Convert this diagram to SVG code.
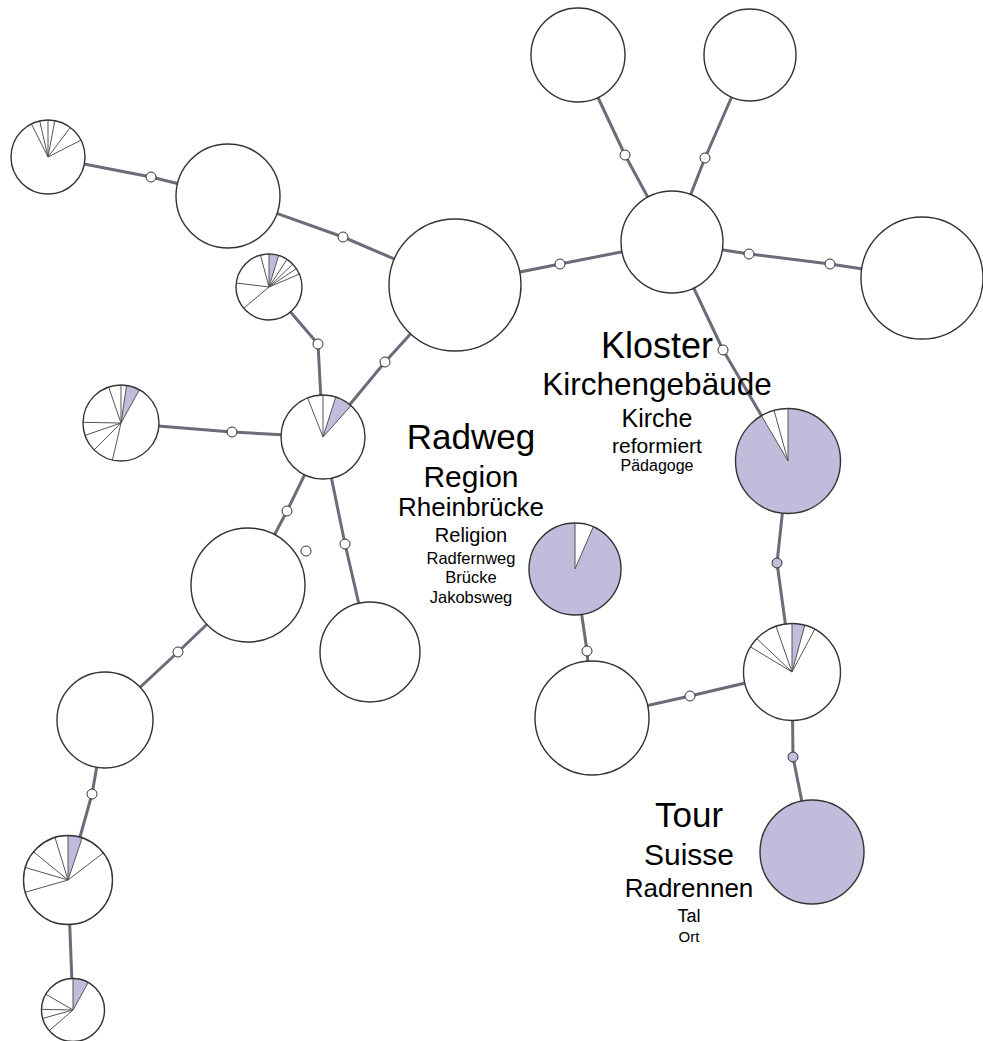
<svg xmlns="http://www.w3.org/2000/svg" width="983" height="1041" viewBox="0 0 983 1041">
<style>
.e{fill:none;stroke:#6e6a7a;stroke-width:3;stroke-linejoin:round}
.n{fill:#fff;stroke:#333;stroke-width:1.4}
.b{fill:#fff;stroke:none}
.f{fill:#c0bcdc;stroke:none}
.r{stroke:#555;stroke-width:1;fill:none}
.o{fill:none;stroke:#333;stroke-width:1.4}
.d{fill:#fff;stroke:#333;stroke-width:1}
.dp{fill:#c0bcdc;stroke:#333;stroke-width:1}
text{font-family:"Liberation Sans",Arial,sans-serif;fill:#000;text-anchor:middle}
</style>
<rect width="983" height="1041" fill="#fff"/>
<g id="edges">
<polyline class="e" points="48,157 151,177 228,196"/>
<polyline class="e" points="228,196 343,237 455,285"/>
<polyline class="e" points="455,285 560,264 672,242"/>
<polyline class="e" points="672,242 625,155 578,55"/>
<polyline class="e" points="672,242 705,158 750,55"/>
<polyline class="e" points="672,242 749,254 830,264 922,278"/>
<polyline class="e" points="672,242 723,350 788,461"/>
<polyline class="e" points="455,285 385,362 323,437"/>
<polyline class="e" points="269,287 318,344 323,437"/>
<polyline class="e" points="121,423 232,432 323,437"/>
<polyline class="e" points="323,437 287,511 248,585"/>
<polyline class="e" points="323,437 345,544 370,652"/>
<polyline class="e" points="248,585 178,652 105,720"/>
<polyline class="e" points="105,720 92,794 68,880"/>
<polyline class="e" points="68,880 73,1010"/>
<polyline class="e" points="575,569 587,651 592,718"/>
<polyline class="e" points="592,718 690,696 792,672"/>
<polyline class="e" points="788,461 777,563 792,672"/>
<polyline class="e" points="792,672 793,757 812,852"/>
</g>
<g id="n-A">
<circle class="b" cx="48" cy="157" r="37"/>
<path class="r" d="M48,157L31.43,123.91M48,157L39.68,120.95M48,157L48,120M48,157L54.81,120.63M48,157L70.27,127.45M48,157L80.97,140.2"/>
<circle class="o" cx="48" cy="157" r="37"/>
</g>
<g id="n-B"><circle class="n" cx="228" cy="196" r="52"/></g>
<g id="n-C"><circle class="n" cx="455" cy="285" r="66"/></g>
<g id="n-D"><circle class="n" cx="672" cy="242" r="51"/></g>
<g id="n-E"><circle class="n" cx="578" cy="55" r="47"/></g>
<g id="n-F"><circle class="n" cx="750" cy="55" r="46"/></g>
<g id="n-G"><circle class="n" cx="922" cy="278" r="61"/></g>
<g id="n-H">
<circle class="b" cx="269" cy="287" r="33"/>
<path class="f" d="M269,287L269,254A33,33 0 0 1 278.65,255.44Z"/>
<path class="r" d="M269,287L260.46,255.13M269,287L269,254M269,287L278.65,255.44M269,287L286.97,259.32M269,287L292.74,264.07M269,287L296.36,268.55M269,287L299.38,274.11M269,287L243.72,308.21M269,287L236.25,282.98"/>
<circle class="o" cx="269" cy="287" r="33"/>
</g>
<g id="n-I">
<circle class="b" cx="121" cy="423" r="38"/>
<path class="f" d="M121,423L126.55,385.41A38,38 0 0 1 139.42,389.76Z"/>
<path class="r" d="M121,423L108.63,387.07M121,423L121,385M121,423L126.55,385.41M121,423L139.42,389.76M121,423L112.45,460.03M121,423L94.13,449.87M121,423L85.07,435.37M121,423L83.01,422.34"/>
<circle class="o" cx="121" cy="423" r="38"/>
</g>
<g id="n-J">
<circle class="b" cx="323" cy="437" r="42"/>
<path class="f" d="M323,437L335.77,396.99A42,42 0 0 1 351,405.69Z"/>
<path class="r" d="M323,437L307.61,397.92M323,437L323,395M323,437L335.77,396.99M323,437L351,405.69"/>
<circle class="o" cx="323" cy="437" r="42"/>
</g>
<g id="n-K"><circle class="n" cx="248" cy="585" r="57"/></g>
<g id="n-L"><circle class="n" cx="370" cy="652" r="50"/></g>
<g id="n-M">
<circle class="b" cx="575" cy="569" r="46"/>
<path class="f" d="M575,569L593.34,526.81A46,46 0 1 1 575,523Z"/>
<path class="r" d="M575,569L575,523M575,569L593.34,526.81"/>
<circle class="o" cx="575" cy="569" r="46"/>
</g>
<g id="n-N">
<circle class="b" cx="788" cy="461" r="52.5"/>
<path class="f" d="M788,461L788,408.5A52.5,52.5 0 1 1 761.44,415.72Z"/>
<path class="r" d="M788,461L761.44,415.72M788,461L774.06,410.39M788,461L788,408.5"/>
<circle class="o" cx="788" cy="461" r="52.5"/>
</g>
<g id="n-O">
<circle class="b" cx="792" cy="672" r="48.5"/>
<path class="f" d="M792,672L792,623.5A48.5,48.5 0 0 1 804.8,625.22Z"/>
<path class="r" d="M792,672L750.51,646.88M792,672L756.82,638.61M792,672L775.97,626.23M792,672L792,623.5M792,672L804.8,625.22M792,672L814.77,629.18"/>
<circle class="o" cx="792" cy="672" r="48.5"/>
</g>
<g id="n-P"><circle class="n" cx="592" cy="718" r="57"/></g>
<g id="n-Q"><circle class="n" cx="812" cy="852" r="52" style="fill:#c0bcdc"/></g>
<g id="n-R"><circle class="n" cx="105" cy="720" r="48"/></g>
<g id="n-S">
<circle class="b" cx="68" cy="880" r="44.5"/>
<path class="f" d="M68,880L68,835.5A44.5,44.5 0 0 1 82.19,837.82Z"/>
<path class="r" d="M68,880L25.22,892.26M68,880L25.29,867.51M68,880L33.57,851.81M68,880L54.99,837.44M68,880L68,835.5M68,880L82.19,837.82M68,880L103.3,852.91"/>
<circle class="o" cx="68" cy="880" r="44.5"/>
</g>
<g id="n-T">
<circle class="b" cx="73" cy="1010" r="31.5"/>
<path class="f" d="M73,1010L73,978.5A31.5,31.5 0 0 1 88.27,982.45Z"/>
<path class="r" d="M73,1010L49.23,1030.67M73,1010L42.65,1018.42M73,1010L41.51,1009.34M73,1010L45.8,994.11M73,1010L73,978.5M73,1010L88.27,982.45"/>
<circle class="o" cx="73" cy="1010" r="31.5"/>
</g>
<g id="dots">
<circle class="d" cx="151" cy="177" r="5"/>
<circle class="d" cx="343" cy="237" r="5"/>
<circle class="d" cx="560" cy="264" r="5"/>
<circle class="d" cx="625" cy="155" r="5"/>
<circle class="d" cx="705" cy="158" r="5"/>
<circle class="d" cx="749" cy="254" r="5"/>
<circle class="d" cx="830" cy="264" r="5"/>
<circle class="d" cx="723" cy="350" r="5"/>
<circle class="d" cx="385" cy="362" r="5"/>
<circle class="d" cx="318" cy="344" r="5"/>
<circle class="d" cx="232" cy="432" r="5"/>
<circle class="d" cx="287" cy="511" r="5"/>
<circle class="d" cx="345" cy="544" r="5"/>
<circle class="d" cx="306" cy="551" r="5"/>
<circle class="d" cx="178" cy="652" r="5"/>
<circle class="d" cx="92" cy="794" r="5"/>
<circle class="d" cx="587" cy="651" r="5"/>
<circle class="d" cx="690" cy="696" r="5"/>
<circle class="dp" cx="777" cy="563" r="5"/>
<circle class="dp" cx="793" cy="757" r="5"/>
</g>
<g id="label-radweg">
<text x="471" y="449" font-size="35">Radweg</text>
<text x="471" y="487" font-size="30">Region</text>
<text x="471" y="516" font-size="26">Rheinbrücke</text>
<text x="471" y="542" font-size="20">Religion</text>
<text x="471" y="564" font-size="16.5">Radfernweg</text>
<text x="471" y="583" font-size="16.5">Brücke</text>
<text x="471" y="603" font-size="16.5">Jakobsweg</text>
</g>
<g id="label-kloster">
<text x="657" y="358" font-size="36">Kloster</text>
<text x="657" y="395" font-size="31.5">Kirchengebäude</text>
<text x="657" y="427" font-size="25">Kirche</text>
<text x="657" y="453" font-size="21">reformiert</text>
<text x="657" y="471" font-size="16">Pädagoge</text>
</g>
<g id="label-tour">
<text x="689" y="827" font-size="35">Tour</text>
<text x="689" y="865" font-size="30">Suisse</text>
<text x="689" y="897" font-size="26">Radrennen</text>
<text x="689" y="922" font-size="18">Tal</text>
<text x="689" y="942" font-size="15">Ort</text>
</g>
</svg>
